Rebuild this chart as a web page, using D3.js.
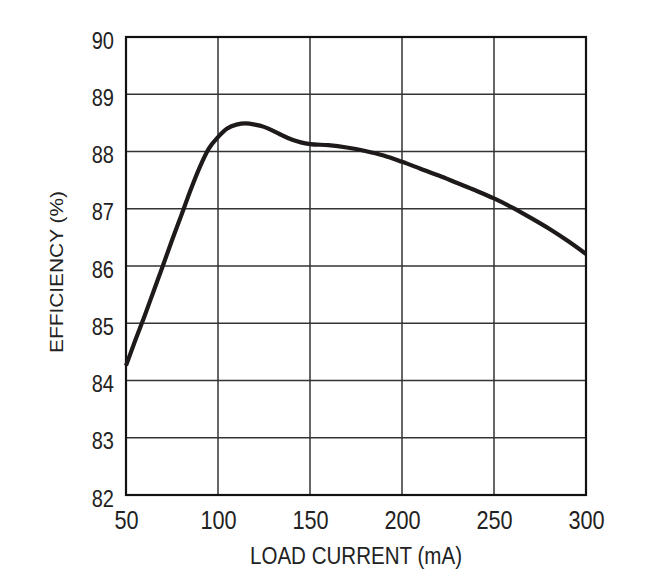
<!DOCTYPE html>
<html>
<head>
<meta charset="utf-8">
<script src="https://cdn.jsdelivr.net/npm/d3@7"></script>
<style>
  body { margin: 0; background: #fff; }
  text { font-family: "Liberation Sans Narrow", "Liberation Sans", Arial, sans-serif; fill: #222; }
</style>
</head>
<body>
<script>
// efficiency vs load current
const loadCurrent = [50, 55, 60, 65, 70, 75, 80, 85, 90, 95, 100, 105, 110, 115, 120, 125, 130, 135, 140, 145, 150,
  160, 170, 180, 190, 200, 210, 220, 230, 240, 250, 260, 270, 280, 290, 300];
const efficiency = [84.26, 84.7, 85.12, 85.56, 86.0, 86.45, 86.88, 87.32, 87.72, 88.05, 88.25, 88.4, 88.47, 88.49, 88.47, 88.43, 88.36, 88.28, 88.21, 88.16, 88.13,
  88.11, 88.07, 88.01, 87.93, 87.82, 87.7, 87.58, 87.45, 87.32, 87.18, 87.02, 86.84, 86.65, 86.44, 86.21];
const xTicks = [50, 100, 150, 200, 250, 300];
const yTicks = [82, 83, 84, 85, 86, 87, 88, 89, 90];

const w = 650;
const h = 581;
const padLeft = 126, padRight = 586, padTop = 37, padBottom = 495;
const squeeze = "scale(0.835,1)"; // fake a condensed face

const data = loadCurrent.map((d, i) => [d, efficiency[i]]);

const xScale = d3.scaleLinear().domain([50, 300]).range([padLeft, padRight]);
const yScale = d3.scaleLinear().domain([82, 90]).range([padBottom, padTop]);

const svg = d3.select("body").append("svg")
  .attr("width", w)
  .attr("height", h);

// grid
svg.append("g")
  .selectAll("line")
  .data(xTicks)
  .enter()
  .append("line")
  .attr("x1", (d) => xScale(d))
  .attr("x2", (d) => xScale(d))
  .attr("y1", padTop)
  .attr("y2", padBottom)
  .attr("stroke", "#333")
  .attr("stroke-width", 1.5);

svg.append("g")
  .selectAll("line")
  .data(yTicks)
  .enter()
  .append("line")
  .attr("x1", padLeft)
  .attr("x2", padRight)
  .attr("y1", (d) => yScale(d))
  .attr("y2", (d) => yScale(d))
  .attr("stroke", "#333")
  .attr("stroke-width", 1.5);

// frame
svg.append("rect")
  .attr("x", padLeft)
  .attr("y", padTop)
  .attr("width", padRight - padLeft)
  .attr("height", padBottom - padTop)
  .attr("fill", "none")
  .attr("stroke", "#111")
  .attr("stroke-width", 2.2);

// axes, only for the labels
const xAxis = d3.axisBottom(xScale).tickValues(xTicks).tickSize(0);
const yAxis = d3.axisLeft(yScale).tickValues(yTicks).tickSize(0);

const gx = svg.append("g")
  .attr("transform", "translate(0," + padBottom + ")")
  .call(xAxis);
gx.select(".domain").remove();
gx.attr("font-family", null).attr("font-size", null);
gx.selectAll("text")
  .attr("font-size", 26)
  .attr("y", 34)
  .attr("dy", null)
  .attr("transform", squeeze);

const gy = svg.append("g")
  .attr("transform", "translate(" + padLeft + ",0)")
  .call(yAxis);
gy.select(".domain").remove();
gy.attr("font-family", null).attr("font-size", null);
gy.selectAll("text")
  .attr("font-size", 24)
  .attr("x", -14.4)
  .attr("dy", 11)
  .attr("transform", squeeze);

// curve
const line = d3.line()
  .x((d) => xScale(d[0]))
  .y((d) => yScale(d[1]))
  .curve(d3.curveMonotoneX);

svg.append("path")
  .datum(data)
  .attr("d", line)
  .attr("fill", "none")
  .attr("stroke", "#1e1a1a")
  .attr("stroke-width", 4.2)
  .attr("stroke-linejoin", "round");

// titles
svg.append("text")
  .attr("x", 356)
  .attr("y", 564)
  .attr("text-anchor", "middle")
  .attr("font-size", 23.3)
  .attr("textLength", 212)
  .attr("lengthAdjust", "spacingAndGlyphs")
  .text("LOAD CURRENT (mA)");

svg.append("text")
  .attr("transform", "translate(63,272) rotate(-90)")
  .attr("text-anchor", "middle")
  .attr("font-size", 18.2)
  .attr("textLength", 162)
  .attr("lengthAdjust", "spacingAndGlyphs")
  .text("EFFICIENCY (%)");
</script>
</body>
</html>
